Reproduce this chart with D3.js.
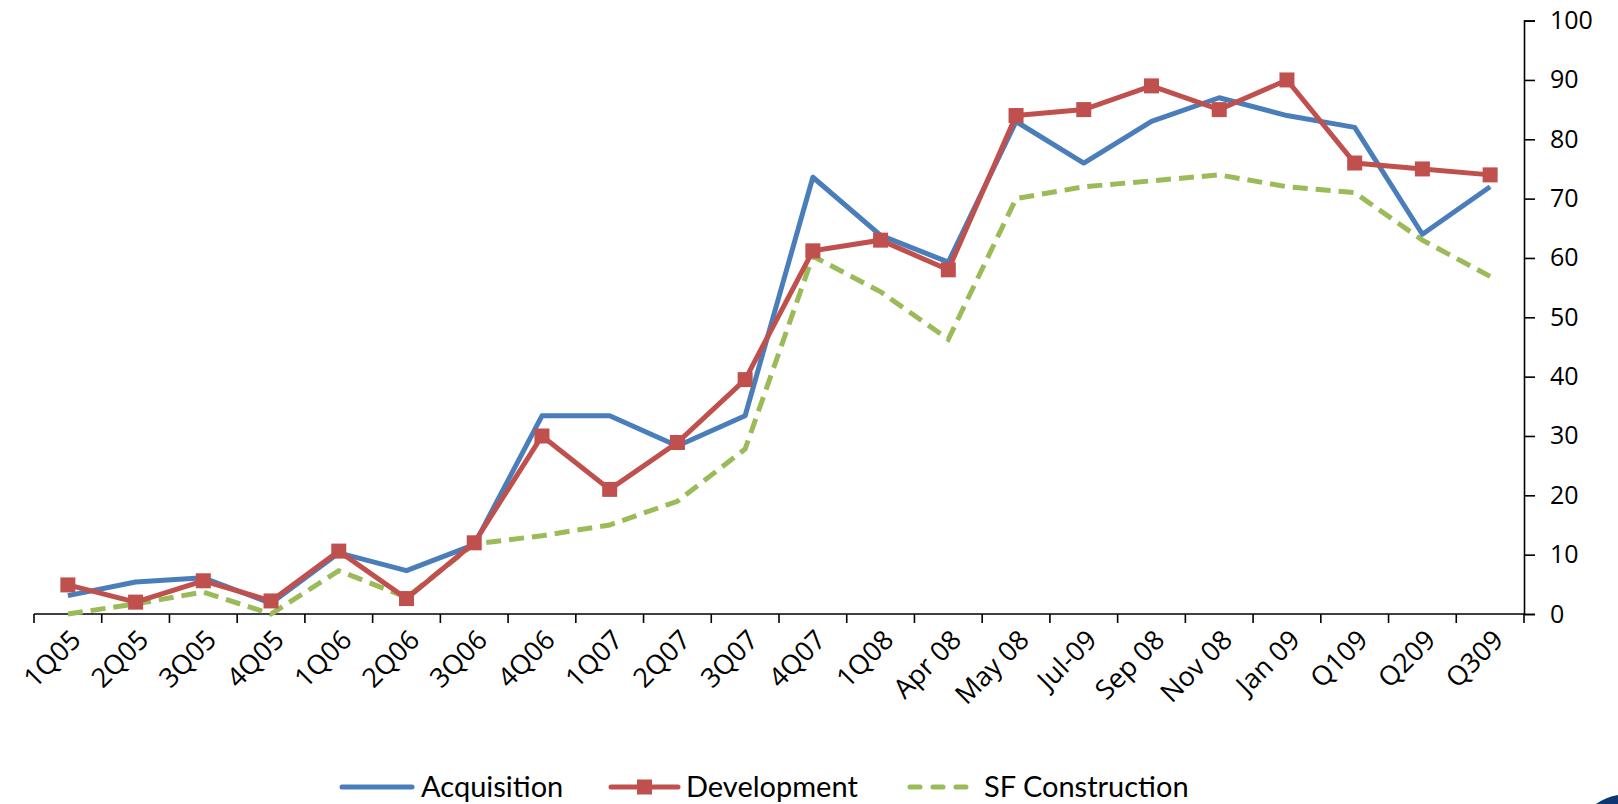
<!DOCTYPE html>
<html>
<head>
<meta charset="utf-8">
<script src="https://cdn.jsdelivr.net/npm/d3@7"></script>
<style>
    body { margin: 0; background: #fff; }
    svg { display: block; }
    .axis path, .axis line { stroke: #000; stroke-width: 1.6; }
    .axis text { font-family: "Open Sans", sans-serif; fill: #000; }
    .legend text { font-family: Lato, "Open Sans", sans-serif; font-size: 29px; fill: #000; }
</style>
</head>
<body>
<svg id="chart" width="1618" height="804"></svg>
<script>
// chart data
var categories = ["1Q05", "2Q05", "3Q05", "4Q05", "1Q06", "2Q06", "3Q06", "4Q06", "1Q07", "2Q07", "3Q07",
    "4Q07", "1Q08", "Apr 08", "May 08", "Jul-09", "Sep 08", "Nov 08", "Jan 09", "Q109", "Q209", "Q309"];
var acquisition = [3.1, 5.4, 6.1, 1.8, 10.3, 7.3, 11.7, 33.4, 33.4, 28.3, 33.4,
    73.6, 63.8, 59.3, 83, 76, 83, 87, 84, 82, 64, 72];
var development = [4.9, 2, 5.6, 2.2, 10.6, 2.6, 12, 30, 21, 28.9, 39.5,
    61.2, 63, 58, 84, 85, 89, 85, 90, 76, 75, 74];
var sfConstruction = [0, 1.7, 3.7, 0, 7.3, 2.8, 11.8, 13.2, 15, 19, 27.8,
    60.3, 54.3, 46.3, 70, 72, 73, 74, 72, 71, 63, 56.9];
var yTicks = [0, 10, 20, 30, 40, 50, 60, 70, 80, 90, 100];
var seriesNames = ["Acquisition", "Development", "SF Construction"];

document.addEventListener("DOMContentLoaded", function () {
    var svg = d3.select("#chart");

    var left = 34, right = 1524, top = 20.6, bottom = 614;

    var x = d3.scaleBand().domain(categories).range([left, right]);
    var y = d3.scaleLinear().domain([0, 100]).range([bottom, top]);

    // x axis with ticks between categories
    var xAxis = svg.append("g").attr("class", "axis");
    xAxis.append("line")
        .attr("x1", left).attr("x2", right)
        .attr("y1", bottom).attr("y2", bottom);
    xAxis.selectAll(".xtick")
        .data(d3.range(categories.length + 1))
        .enter().append("line")
        .attr("class", "xtick")
        .attr("x1", function (i) { return left + i * x.step(); })
        .attr("x2", function (i) { return left + i * x.step(); })
        .attr("y1", bottom).attr("y2", bottom + 9);
    xAxis.selectAll(".xlabel")
        .data(categories)
        .enter().append("text")
        .attr("class", "xlabel")
        .attr("text-anchor", "end")
        .attr("font-size", 27)
        .attr("transform", function (d) {
            return "translate(" + (x(d) + x.bandwidth() / 2 + 8) + "," + (bottom + 21) + ") rotate(-45)";
        })
        .attr("dy", "0.35em")
        .text(function (d) { return d; });

    // y axis on the right
    var yAxis = svg.append("g")
        .attr("class", "axis")
        .attr("transform", "translate(" + right + ",0)")
        .call(d3.axisRight(y).tickValues(yTicks).tickSize(11).tickPadding(15));
    yAxis.selectAll("text").attr("font-size", 25);

    var line = d3.line()
        .x(function (d, i) { return x(categories[i]) + x.bandwidth() / 2; })
        .y(function (d) { return y(d); });

    svg.append("path")
        .datum(sfConstruction)
        .attr("fill", "none")
        .attr("stroke", "#9BBB59")
        .attr("stroke-width", 5)
        .attr("stroke-dasharray", "15,8")
        .attr("d", line);

    svg.append("path")
        .datum(acquisition)
        .attr("fill", "none")
        .attr("stroke", "#4A7EBB")
        .attr("stroke-width", 5)
        .attr("stroke-linejoin", "round")
        .attr("d", line);

    svg.append("path")
        .datum(development)
        .attr("fill", "none")
        .attr("stroke", "#C0504D")
        .attr("stroke-width", 5)
        .attr("d", line);

    svg.selectAll(".marker")
        .data(development)
        .enter().append("rect")
        .attr("class", "marker")
        .attr("x", function (d, i) { return x(categories[i]) + x.bandwidth() / 2 - 7.5; })
        .attr("y", function (d) { return y(d) - 7.5; })
        .attr("width", 15)
        .attr("height", 15)
        .attr("fill", "#C0504D");

    // legend
    var legend = svg.append("g").attr("class", "legend");
    var legendY = 787;
    var legendX = [342, 611, 907];

    legend.append("line")
        .attr("x1", legendX[0]).attr("x2", legendX[0] + 70)
        .attr("y1", legendY).attr("y2", legendY)
        .attr("stroke", "#4A7EBB").attr("stroke-width", 5).attr("stroke-linecap", "round");
    legend.append("line")
        .attr("x1", legendX[1]).attr("x2", legendX[1] + 67)
        .attr("y1", legendY).attr("y2", legendY)
        .attr("stroke", "#C0504D").attr("stroke-width", 5).attr("stroke-linecap", "round");
    legend.append("rect")
        .attr("x", legendX[1] + 33.5 - 7.5).attr("y", legendY - 7.5)
        .attr("width", 15).attr("height", 15)
        .attr("fill", "#C0504D");
    legend.append("line")
        .attr("x1", legendX[2] + 3).attr("x2", legendX[2] + 62)
        .attr("y1", legendY).attr("y2", legendY)
        .attr("stroke", "#9BBB59").attr("stroke-width", 5).attr("stroke-linecap", "round")
        .attr("stroke-dasharray", "10,13");

    var textX = [421, 686, 984];
    legend.selectAll(".legendText")
        .data(seriesNames)
        .enter().append("text")
        .attr("class", "legendText")
        .attr("x", function (d, i) { return textX[i]; })
        .attr("y", legendY)
        .attr("dy", "0.36em")
        .text(function (d) { return d; });

    // corner of the logo peeking in
    svg.append("path")
        .attr("d", "M1596,804 Q1606,797 1618,795 L1618,804 Z")
        .attr("fill", "#0F3573");
});
</script>
</body>
</html>
